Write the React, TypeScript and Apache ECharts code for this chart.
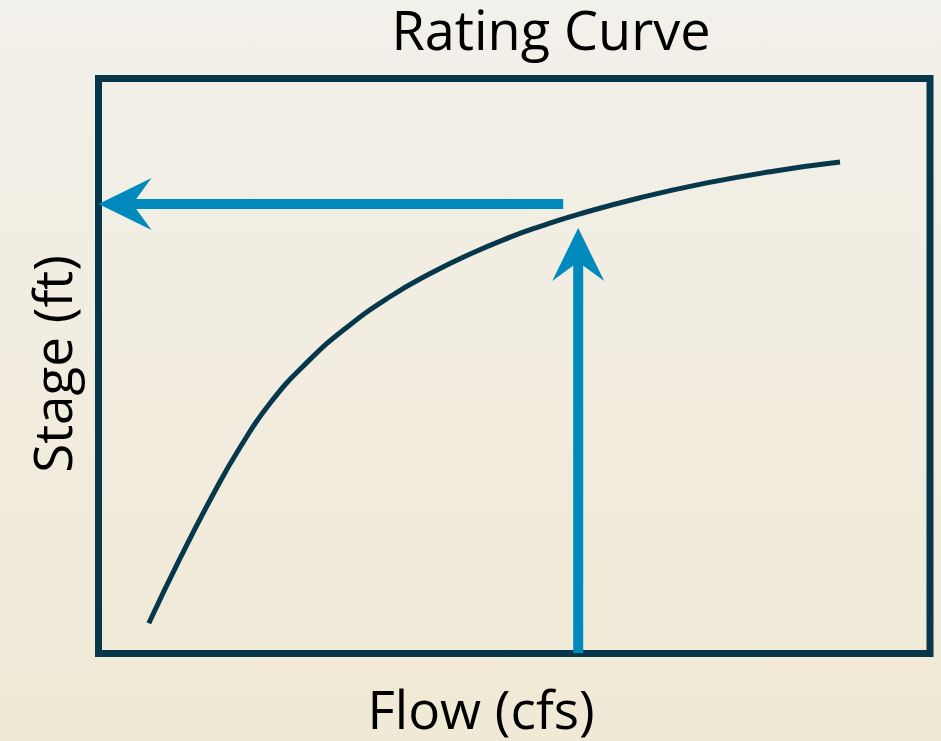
import React, { useEffect, useRef } from "react";
import * as echarts from "echarts";

// Rating curve (flow vs stage), in relative units 0..100
const curveFlow = [6.05, 9.86, 13.86, 17.07, 20.67, 25.08, 29.89, 35.1, 39.9, 44.71, 49.52, 53.13, 57.69, 65.14, 73.16, 81.17, 89.18];
const curveStage = [5.25, 16.7, 27.87, 35.95, 43.61, 50.63, 56.75, 62.09, 66.08, 69.49, 72.41, 74.28, 76.37, 79.27, 81.84, 83.88, 85.46];

// Arrows: [fromX, fromY, toX, toY]
const arrowHorizontal = [55.89, 78.16, 0, 78.16];
const arrowVertical = [57.69, 0.09, 57.69, 73.99];

const titleText = "Rating Curve";
const xLabel = "Flow (cfs)";
const yLabel = "Stage (ft)";

const DARK = "#06374b";
const BLUE = "#0089bd";
const FONT = "'Open Sans', sans-serif";

export default function App() {
  const ref = useRef<HTMLDivElement>(null);

  useEffect(() => {
    if (!ref.current) return;
    const chart = echarts.init(ref.current, undefined, { renderer: "svg" });

    const curveData = curveFlow.map((x, i) => [x, curveStage[i]]);

    const renderArrow = (params: any, api: any) => {
      const p1 = api.coord([api.value(0), api.value(1)]);
      const p2 = api.coord([api.value(2), api.value(3)]);
      const dx = p2[0] - p1[0];
      const dy = p2[1] - p1[1];
      const len = Math.sqrt(dx * dx + dy * dy) || 1;
      const ux = dx / len;
      const uy = dy / len;
      const nx = -uy;
      const ny = ux;
      const L = 53;
      const W = 26;
      const N = 34;
      const notch = [p2[0] - ux * N, p2[1] - uy * N];
      return {
        type: "group",
        children: [
          {
            type: "line",
            shape: { x1: p1[0], y1: p1[1], x2: notch[0] + ux * 4, y2: notch[1] + uy * 4 },
            style: { stroke: BLUE, lineWidth: 10 },
          },
          {
            type: "polygon",
            shape: {
              points: [
                [p2[0], p2[1]],
                [p2[0] - ux * L + nx * W, p2[1] - uy * L + ny * W],
                notch,
                [p2[0] - ux * L - nx * W, p2[1] - uy * L - ny * W],
              ],
            },
            style: { fill: BLUE },
          },
        ],
      };
    };

    chart.setOption({
      animation: false,
      backgroundColor: new echarts.graphic.LinearGradient(0, 0, 0, 1, [
        { offset: 0, color: "#f2f0ea" },
        { offset: 1, color: "#f0e9d5" },
      ]),
      grid: {
        left: 98.5,
        top: 78.5,
        right: 11,
        bottom: 87.5,
        show: true,
        borderColor: DARK,
        borderWidth: 7,
        backgroundColor: "transparent",
      },
      xAxis: {
        type: "value",
        min: 0,
        max: 100,
        axisLine: { show: false },
        axisTick: { show: false },
        axisLabel: { show: false },
        splitLine: { show: false },
      },
      yAxis: {
        type: "value",
        min: 0,
        max: 100,
        axisLine: { show: false },
        axisTick: { show: false },
        axisLabel: { show: false },
        splitLine: { show: false },
      },
      graphic: [
        {
          type: "text",
          x: 551,
          y: 29,
          style: {
            text: titleText,
            fill: "#000",
            font: `54px ${FONT}`,
            align: "center",
            verticalAlign: "middle",
          },
        },
        {
          type: "text",
          x: 481,
          y: 708,
          style: {
            text: xLabel,
            fill: "#000",
            font: `53px ${FONT}`,
            align: "center",
            verticalAlign: "middle",
          },
        },
        {
          type: "text",
          x: 51,
          y: 364,
          rotation: Math.PI / 2,
          style: {
            text: yLabel,
            fill: "#000",
            font: `53px ${FONT}`,
            align: "center",
            verticalAlign: "middle",
          },
        },
      ],
      series: [
        {
          type: "line",
          data: curveData,
          smooth: 0.5,
          symbol: "none",
          lineStyle: { color: DARK, width: 5 },
          z: 3,
        },
        {
          type: "custom",
          renderItem: renderArrow,
          data: [arrowHorizontal, arrowVertical],
          clip: false,
          z: 5,
        },
      ],
    });

    return () => chart.dispose();
  }, []);

  return (
    <div
      ref={ref}
      style={{ position: "absolute", left: 0, top: 0, width: 941, height: 741 }}
    />
  );
}
